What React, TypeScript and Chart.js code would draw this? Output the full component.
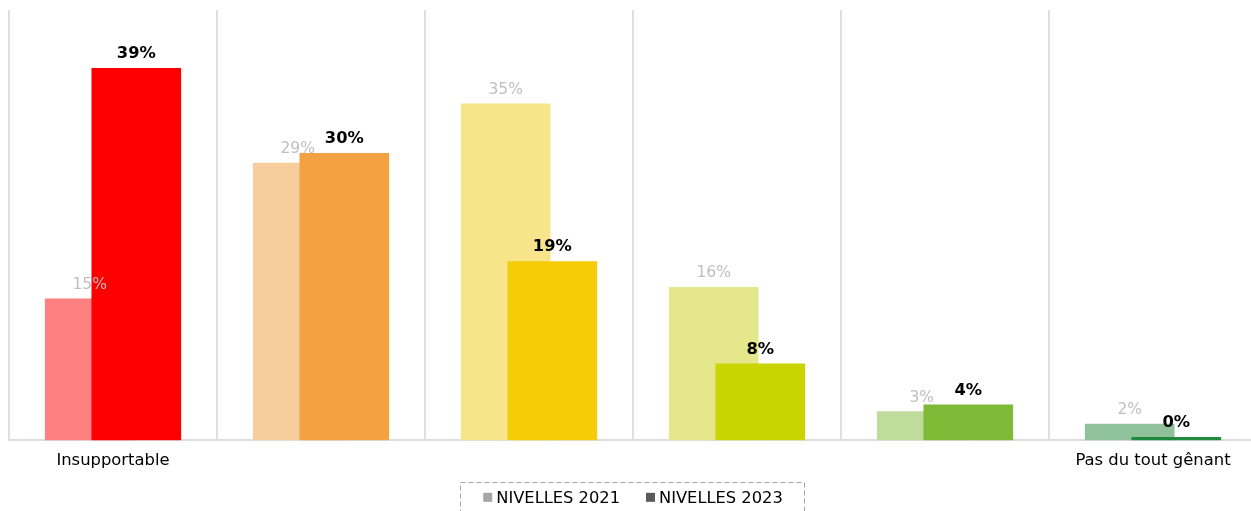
import { useEffect, useRef } from 'react';
import { Chart, registerables } from 'chart.js';

Chart.register(...registerables);

const categories = ['Insupportable', '', '', '', '', 'Pas du tout gênant'];
const seriesNames = ['NIVELLES 2021', 'NIVELLES 2023'];
const values2021 = [14.8, 29.0, 35.2, 16.0, 3.0, 1.7];
const values2023 = [38.9, 30.0, 18.7, 8.0, 3.7, 0.3];
const colors2021 = ['#FF8080', '#F8CD9D', '#F8E48A', '#E4E78A', '#BFDC9D', '#8FC19B'];
const colors2023 = ['#FF0000', '#F4A142', '#F5CC05', '#C9D400', '#7FBA36', '#1F8A3D'];
const legendColors = ['#A6A6A6', '#595959'];
const yMax = 45;

const FONT = '"DejaVu Sans", Verdana, sans-serif';
const OFFSET = 0.112;

const valueLabels = {
  id: 'valueLabels',
  afterDatasetsDraw(chart: any) {
    const ctx = chart.ctx;
    const styles = [
      { font: `normal 15.5px ${FONT}`, color: '#BFBFBF' },
      { font: `bold 16.3px ${FONT}`, color: '#000000' },
    ];
    ctx.save();
    ctx.textAlign = 'center';
    ctx.textBaseline = 'alphabetic';
    [0, 1].forEach((d) => {
      const meta = chart.getDatasetMeta(d);
      const vals = d === 0 ? values2021 : values2023;
      ctx.font = styles[d].font;
      ctx.fillStyle = styles[d].color;
      meta.data.forEach((el: any, i: number) => {
        ctx.fillText(Math.round(vals[i]) + '%', el.x, el.y - 10);
      });
    });
    ctx.restore();
  },
};

const customLegend = {
  id: 'customLegend',
  afterDraw(chart: any) {
    const ctx = chart.ctx;
    ctx.save();
    ctx.font = `normal 16.3px ${FONT}`;
    const box = 9;
    const gap = 4;
    const itemGap = 26;
    const widths = seriesNames.map((n) => ctx.measureText(n).width);
    const total = widths.reduce((a, w) => a + box + gap + w, 0) + itemGap * (seriesNames.length - 1);
    const cx = (chart.chartArea.left + chart.chartArea.right) / 2;
    const cy = chart.chartArea.bottom + 57;
    let x = cx - total / 2;
    const startX = x;
    ctx.textBaseline = 'middle';
    ctx.textAlign = 'left';
    seriesNames.forEach((n, i) => {
      ctx.fillStyle = legendColors[i];
      ctx.fillRect(x, cy - box / 2, box, box);
      x += box + gap;
      ctx.fillStyle = '#000000';
      ctx.fillText(n, x, cy + 1);
      x += widths[i] + itemGap;
    });
    const endX = x - itemGap;
    ctx.strokeStyle = '#A6A6A6';
    ctx.lineWidth = 1;
    ctx.setLineDash([5, 3]);
    ctx.strokeRect(Math.round(startX - 23) + 0.5, Math.round(cy - 15) + 0.5, Math.round(endX - startX + 44), 40);
    ctx.restore();
  },
};

export default function App() {
  const ref = useRef<HTMLCanvasElement>(null);

  useEffect(() => {
    if (!ref.current) return;
    const tickValues: number[] = [];
    for (let i = 0; i < categories.length; i++) {
      tickValues.push(i - 0.5, i);
    }
    tickValues.push(categories.length - 0.5);

    const chart = new Chart(ref.current, {
      type: 'bar',
      data: {
        datasets: [
          {
            label: seriesNames[0],
            data: values2021.map((v, i) => ({ x: i - OFFSET, y: v })),
            backgroundColor: colors2021,
            barThickness: 89,
            grouped: false,
            order: 2,
          } as any,
          {
            label: seriesNames[1],
            data: values2023.map((v, i) => ({ x: i + OFFSET, y: v })),
            backgroundColor: colors2023,
            barThickness: 89,
            grouped: false,
            order: 1,
          } as any,
        ],
      },
      options: {
        responsive: false,
        animation: false,
        layout: { padding: { left: 4, right: 7, top: 10, bottom: 29 } },
        plugins: {
          legend: { display: false },
          tooltip: { enabled: false },
        },
        scales: {
          x: {
            type: 'linear',
            offset: false,
            min: -0.5,
            max: categories.length - 0.5,
            afterBuildTicks: (scale: any) => {
              scale.ticks = tickValues.map((v) => ({ value: v }));
            },
            grid: {
              offset: false,
              drawTicks: false,
              lineWidth: 2,
              color: (c: any) =>
                c.tick && Number.isInteger(c.tick.value) ? 'rgba(0,0,0,0)' : '#DEDEDE',
            },
            border: { display: true, color: '#DEDEDE', width: 2 },
            ticks: {
              autoSkip: false,
              maxRotation: 0,
              minRotation: 0,
              padding: 11,
              color: '#000000',
              font: { family: FONT, size: 16.4 },
              callback: (value: any) =>
                Number.isInteger(value) ? categories[value] ?? '' : '',
            },
          },
          y: {
            display: false,
            min: 0,
            max: yMax,
          },
        },
      },
      plugins: [valueLabels, customLegend],
    });
    return () => chart.destroy();
  }, []);

  return (
    <div
      style={{
        position: 'absolute',
        left: 0,
        top: 0,
        width: 1251,
        height: 511,
        overflow: 'hidden',
        background: '#ffffff',
      }}
    >
      <canvas
        ref={ref}
        width={1270}
        height={511}
        style={{ display: 'block', marginLeft: -2 }}
      />
    </div>
  );
}
